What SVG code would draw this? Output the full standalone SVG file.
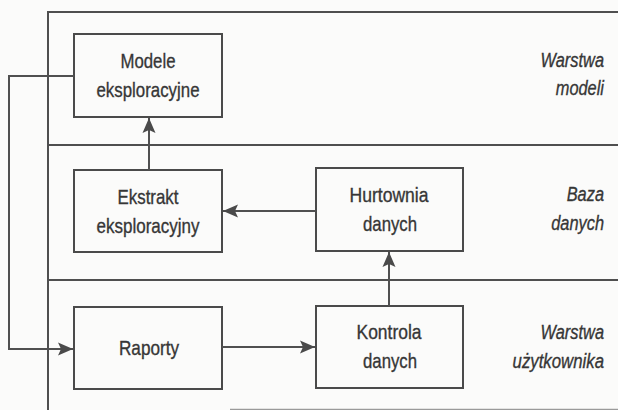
<svg xmlns="http://www.w3.org/2000/svg" width="618" height="410" viewBox="0 0 618 410">
  <style>
    .bg { fill: #fbfbfa; }
    .frame { fill: none; stroke: #4f4f4f; stroke-width: 2; }
    .box { fill: none; stroke: #4a4a4a; stroke-width: 2; }
    .wire { fill: none; stroke: #505050; stroke-width: 2; }
    .lbl { font-family: "Liberation Sans", Arial, sans-serif; font-size: 21px; fill: #363636; stroke: #363636; stroke-width: 0.35; text-anchor: middle; }
    .layer { font-family: "Liberation Sans", Arial, sans-serif; font-size: 21px; fill: #363636; stroke: #363636; stroke-width: 0.35; text-anchor: end; font-style: italic; }
  </style>
  <defs>
    <marker id="head" viewBox="-16 -7 17 14" refX="0" refY="0" markerWidth="17" markerHeight="14" markerUnits="userSpaceOnUse" orient="auto">
      <path d="M0,0 L-15,-6.5 L-12,0 L-15,6.5 Z" fill="#4a4a4a"/>
    </marker>
  </defs>

  <rect class="bg" x="0" y="0" width="618" height="410"/>

  <!-- layer frame and layer names (names narrowed to a condensed look) -->
  <g id="layers">
    <path class="frame" d="M48,410 V12 H618"/>
    <path class="frame" d="M48,145 H618"/>
    <path class="frame" d="M48,280 H618"/>
    <path d="M230,409.5 H618" stroke="#9a9a9a" stroke-width="1.5"/>
    <text class="layer" transform="translate(604,67) scale(0.78,1)">Warstwa</text>
    <text class="layer" transform="translate(604,95) scale(0.78,1)">modeli</text>
    <text class="layer" transform="translate(604,201) scale(0.78,1)">Baza</text>
    <text class="layer" transform="translate(604,230) scale(0.78,1)">danych</text>
    <text class="layer" transform="translate(604,339) scale(0.78,1)">Warstwa</text>
    <text class="layer" transform="translate(604,368) scale(0.8,1)">użytkownika</text>
  </g>

  <g id="modele">
    <rect class="box" x="74" y="34" width="148" height="83"/>
    <text class="lbl" x="148" y="68" textLength="55" lengthAdjust="spacingAndGlyphs">Modele</text>
    <text class="lbl" x="148" y="97" textLength="103" lengthAdjust="spacingAndGlyphs">eksploracyjne</text>
  </g>

  <g id="ekstrakt">
    <rect class="box" x="74" y="170" width="148" height="82"/>
    <text class="lbl" x="148" y="204" textLength="61" lengthAdjust="spacingAndGlyphs">Ekstrakt</text>
    <text class="lbl" x="148" y="233" textLength="103" lengthAdjust="spacingAndGlyphs">eksploracyjny</text>
  </g>

  <g id="hurtownia">
    <rect class="box" x="316" y="168" width="147" height="83"/>
    <text class="lbl" x="389" y="202" textLength="79" lengthAdjust="spacingAndGlyphs">Hurtownia</text>
    <text class="lbl" x="390" y="231" textLength="54" lengthAdjust="spacingAndGlyphs">danych</text>
  </g>

  <g id="raporty">
    <rect class="box" x="74" y="307" width="148" height="82"/>
    <text class="lbl" x="149" y="355" textLength="60" lengthAdjust="spacingAndGlyphs">Raporty</text>
  </g>

  <g id="kontrola">
    <rect class="box" x="316" y="306" width="147" height="82"/>
    <text class="lbl" x="389" y="339" textLength="65" lengthAdjust="spacingAndGlyphs">Kontrola</text>
    <text class="lbl" x="390" y="368" textLength="54" lengthAdjust="spacingAndGlyphs">danych</text>
  </g>

  <g id="connectors">
    <path class="wire" d="M149,170 V118" marker-end="url(#head)"/>
    <path class="wire" d="M316,211 H223" marker-end="url(#head)"/>
    <path class="wire" d="M389,306 V252" marker-end="url(#head)"/>
    <path class="wire" d="M222,347 H315" marker-end="url(#head)"/>
    <path class="wire" d="M74,76 H9 V349 H73" marker-end="url(#head)"/>
  </g>
</svg>
